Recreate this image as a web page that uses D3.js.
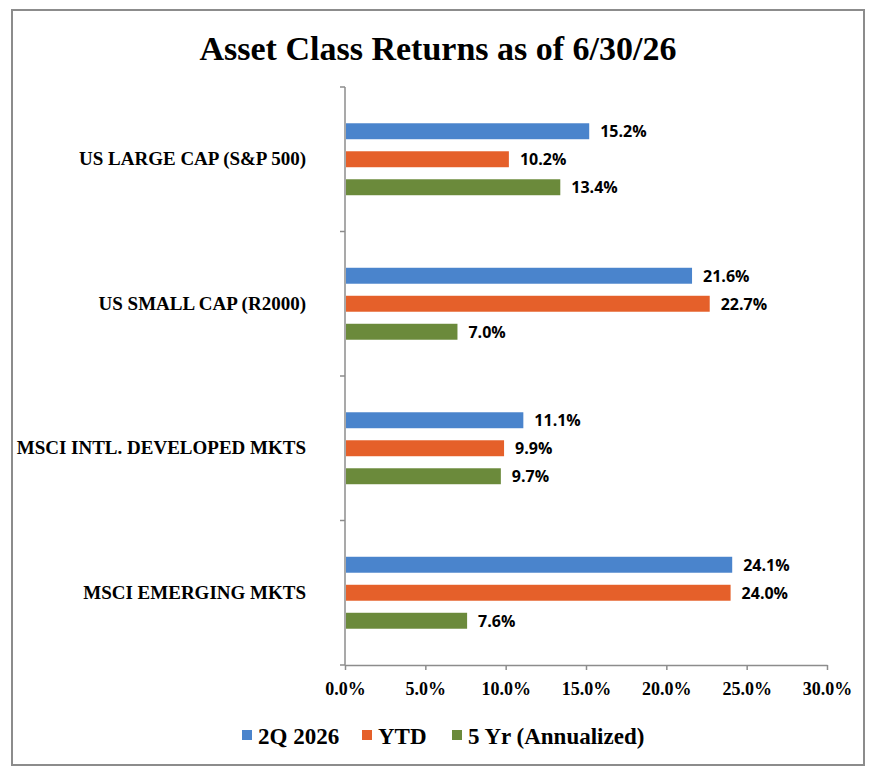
<!DOCTYPE html>
<html>
<head>
<meta charset="utf-8">
<script src="https://cdn.jsdelivr.net/npm/d3@7"></script>
<style>
  body { margin: 0; background: #fff; }
  text { fill: #000; }
</style>
</head>
<body>
<svg id="chart"></svg>
<script>
// chart data
var categories = ["US LARGE CAP (S&P 500)", "US SMALL CAP (R2000)", "MSCI INTL. DEVELOPED MKTS", "MSCI EMERGING MKTS"];
var seriesNames = ["2Q 2026", "YTD", "5 Yr (Annualized)"];
var q2Values = [15.2, 21.6, 11.1, 24.1];
var ytdValues = [10.2, 22.7, 9.9, 24.0];
var fiveYrValues = [13.4, 7.0, 9.7, 7.6];
var xTicks = [0, 5, 10, 15, 20, 25, 30];

var colors = ["#4a84cc", "#e5602a", "#6b8a3b"];
var serif = "'Liberation Serif', 'Times New Roman', serif";
var sans = "'Open Sans', 'DejaVu Sans', sans-serif";

var W = 875, H = 773;
var margin = {top: 87, right: 48, bottom: 108, left: 345};
var width = W - margin.left - margin.right;
var height = H - margin.top - margin.bottom;

var svg = d3.select("#chart")
    .attr("width", W)
    .attr("height", H);

// outer frame
svg.append("rect")
    .attr("x", 12).attr("y", 10)
    .attr("width", 852).attr("height", 755)
    .attr("fill", "none")
    .attr("stroke", "#8c8c8c")
    .attr("stroke-width", 2);

svg.append("text")
    .attr("x", 438).attr("y", 60)
    .attr("text-anchor", "middle")
    .style("font-family", serif)
    .style("font-weight", "bold")
    .style("font-size", "34px")
    .text("Asset Class Returns as of 6/30/26");

var g = svg.append("g")
    .attr("transform", "translate(" + margin.left + "," + margin.top + ")");

var data = categories.map(function(c, i) {
  return {category: c, values: [q2Values[i], ytdValues[i], fiveYrValues[i]]};
});

var x = d3.scaleLinear().domain([0, 30]).range([0, width]);
var y = d3.scaleBand().domain(categories).range([0, height]);
var ySub = d3.scaleBand().domain(d3.range(seriesNames.length))
    .range([0, 84]).paddingInner(0.43).paddingOuter(0.215);

// x axis
var xAxis = g.append("g")
    .attr("transform", "translate(0," + height + ")")
    .call(d3.axisBottom(x).tickValues(xTicks).tickSize(5).tickSizeOuter(0)
      .tickFormat(function(d) { return d.toFixed(1) + "%"; }));
xAxis.select(".domain").attr("stroke", "#8c8c8c").attr("stroke-width", 1.5);
xAxis.selectAll(".tick line").attr("stroke", "#8c8c8c").attr("stroke-width", 1.5);
xAxis.selectAll(".tick text")
    .attr("y", 17)
    .style("font-family", serif)
    .style("font-weight", "bold")
    .style("font-size", "18px")
    .style("fill", "#000");

// y axis line + ticks between categories
g.append("line")
    .attr("x1", 0).attr("x2", 0)
    .attr("y1", 0).attr("y2", height)
    .attr("stroke", "#8c8c8c").attr("stroke-width", 1.5);
g.selectAll(".ytick")
    .data(d3.range(categories.length + 1))
    .enter().append("line")
    .attr("class", "ytick")
    .attr("x1", -5).attr("x2", 0)
    .attr("y1", function(i) { return i * y.step(); })
    .attr("y2", function(i) { return i * y.step(); })
    .attr("stroke", "#8c8c8c").attr("stroke-width", 1.5);

// category labels
g.selectAll(".cat")
    .data(categories)
    .enter().append("text")
    .attr("class", "cat")
    .attr("x", -39)
    .attr("y", function(d) { return y(d) + y.bandwidth() / 2 + 6; })
    .attr("text-anchor", "end")
    .style("font-family", serif)
    .style("font-weight", "bold")
    .style("font-size", "19px")
    .text(function(d) { return d; });

var groups = g.selectAll(".grp")
    .data(data)
    .enter().append("g")
    .attr("class", "grp")
    .attr("transform", function(d) {
      return "translate(0," + (y(d.category) + y.bandwidth() / 2 - 42) + ")";
    });

groups.selectAll("rect")
    .data(function(d) { return d.values; })
    .enter().append("rect")
    .attr("x", 1)
    .attr("y", function(d, i) { return ySub(i); })
    .attr("width", function(d) { return x(d) - 1; })
    .attr("height", ySub.bandwidth())
    .attr("fill", function(d, i) { return colors[i]; });

groups.selectAll(".lbl")
    .data(function(d) { return d.values; })
    .enter().append("text")
    .attr("class", "lbl")
    .attr("x", function(d) { return x(d) + 11; })
    .attr("y", function(d, i) { return ySub(i) + ySub.bandwidth() / 2 + 6; })
    .style("font-family", sans)
    .style("font-weight", "bold")
    .style("font-size", "16px")
    .text(function(d) { return d.toFixed(1) + "%"; });

// legend
var legendX = [242, 362, 452];
var legend = svg.selectAll(".leg")
    .data(seriesNames)
    .enter().append("g")
    .attr("class", "leg")
    .attr("transform", function(d, i) { return "translate(" + legendX[i] + ",744)"; });
legend.append("rect")
    .attr("x", 0).attr("y", -14)
    .attr("width", 10).attr("height", 10)
    .attr("fill", function(d, i) { return colors[i]; });
legend.append("text")
    .attr("x", 16).attr("y", 0)
    .style("font-family", serif)
    .style("font-weight", "bold")
    .style("font-size", "23px")
    .text(function(d) { return d; });
</script>
</body>
</html>
